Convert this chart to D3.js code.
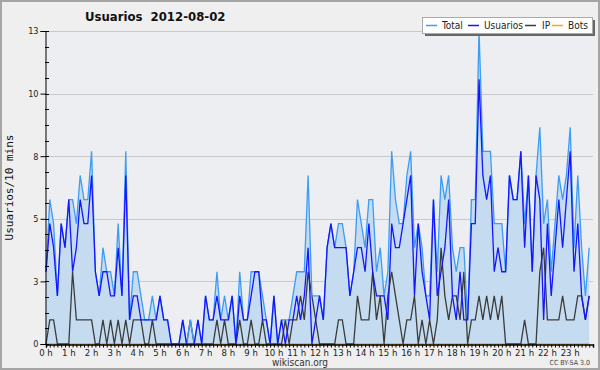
<!DOCTYPE html>
<html>
<head>
<meta charset="utf-8">
<script src="https://cdn.jsdelivr.net/npm/d3@7"></script>
<style>
  body { margin: 0; background: #fff; }
  svg { display: block; font-family: "DejaVu Sans", sans-serif; }
  .cond { font-family: "DejaVu Sans Condensed", "DejaVu Sans", sans-serif; font-stretch: condensed; }
</style>
</head>
<body>
<script>
const W = 600, H = 370
const plot = { left: 45, top: 31, right: 593, bottom: 344 }

// values per 10 minutes, 0 h to 23 h 50
const total = [3,6,5,2,5,4,6,6,5,7,6,6,8,3,2,4,3,3,2,5,2,8,1,3,3,2,1,1,2,1,2,1,1,0,0,0,
  1,0,1,0,1,0,2,1,1,3,1,2,1,2,0,3,1,1,3,3,3,2,1,0,2,0,1,1,1,2,3,3,3,7,2,2,
  2,1,4,5,4,5,5,4,2,3,6,5,4,6,6,3,4,2,3,8,6,5,5,7,8,4,5,4,2,2,6,3,7,6,7,4,
  3,4,4,1,6,6,13,8,8,8,5,5,5,3,7,6,6,8,5,7,3,7,9,5,6,3,5,7,6,7,9,4,7,4,2,4]
const usuarios = [3,5,4,2,5,4,6,3,4,6,5,5,7,3,2,3,3,2,2,4,2,7,1,2,2,1,1,1,1,1,2,1,1,0,0,0,
  1,0,0,0,1,0,2,1,1,2,1,1,1,2,0,2,1,1,2,3,3,1,1,0,2,0,1,0,1,1,2,1,2,4,0,1,
  2,1,4,5,4,4,4,4,2,3,4,4,3,5,3,2,2,2,1,5,4,4,5,6,7,2,5,3,2,1,6,2,3,4,6,2,
  1,3,1,1,5,5,11,7,6,7,3,4,3,3,7,6,6,8,4,7,3,7,6,1,5,2,4,6,4,6,8,3,5,2,1,2]
const ip = [0,1,1,0,0,0,0,3,1,1,1,1,1,0,0,1,0,1,0,1,0,1,0,1,1,1,0,0,1,0,0,0,0,0,0,0,
  0,0,1,0,0,0,0,0,0,1,0,1,0,0,0,1,0,0,1,0,0,1,0,0,0,0,0,1,0,1,1,2,1,3,2,1,
  0,0,0,0,0,1,1,0,0,0,2,1,1,1,3,1,2,0,2,3,2,1,0,1,1,2,0,1,0,1,0,1,4,2,1,2,
  2,1,3,0,1,1,2,1,2,1,2,1,2,0,0,0,0,0,1,0,0,0,3,4,1,1,1,1,2,1,1,1,2,2,1,2]
const bots = new Array(144).fill(0)

const hourLabels = ["0 h","1 h","2 h","3 h","4 h","5 h","6 h","7 h","8 h","9 h","10 h","11 h",
  "12 h","13 h","14 h","15 h","16 h","17 h","18 h","19 h","20 h","21 h","22 h","23 h"]
const yTickValues = [0, 2.6, 5.2, 7.8, 10.4, 13]
const yTickLabels = ["0", "3", "5", "8", "10", "13"]

const series = [
  { name: "Total", values: total, color: "#3d9cf5" },
  { name: "Usuarios", values: usuarios, color: "#1515ff" },
  { name: "IP", values: ip, color: "#3c3c3c" },
  { name: "Bots", values: bots, color: "#ffa500" }
]
// legend slot x positions (line start, text start)
const legendPos = [[426, 442], [468, 484], [525, 542], [552, 568]]

const svg = d3.select("body").append("svg")
  .attr("width", W)
  .attr("height", H)

// background and frame
svg.append("rect")
  .attr("x", 1).attr("y", 1)
  .attr("width", W - 2).attr("height", H - 2)
  .attr("fill", "#efefef")
  .attr("stroke", "#a5a5a5")
  .attr("stroke-width", 2)

svg.append("rect")
  .attr("x", plot.left).attr("y", plot.top)
  .attr("width", plot.right - plot.left).attr("height", plot.bottom - plot.top)
  .attr("fill", "#eceef1")

const x = d3.scaleLinear().domain([0, 24]).range([46, 593])
const y = d3.scaleLinear().domain([0, 13]).range([plot.bottom, plot.top])
const t = i => i / 6

// grid lines
svg.append("g").selectAll("line")
  .data(yTickValues.slice(1))
  .enter().append("line")
  .attr("x1", plot.left).attr("x2", plot.right)
  .attr("y1", d => Math.round(y(d)) + 0.5).attr("y2", d => Math.round(y(d)) + 0.5)
  .attr("stroke", "#c9c9c9")

// area under total
svg.append("path")
  .datum(total)
  .attr("fill", "#c5dcf0")
  .attr("d", d3.area()
    .x((d, i) => x(t(i)))
    .y0(y(0))
    .y1(d => y(d)))

// lines, drawn back to front
const drawOrder = [series[3], series[2], series[0], series[1]]
drawOrder.forEach(s => {
  svg.append("path")
    .datum(s.values)
    .attr("fill", "none")
    .attr("stroke", s.color)
    .attr("stroke-width", 1.3)
    .attr("d", d3.line()
      .x((d, i) => x(t(i)))
      .y(d => y(d)))
})

// y axis
const yAxis = svg.append("g")
  .attr("transform", "translate(" + (plot.left + 0.5) + ",0)")
yAxis.call(d3.axisLeft(y)
    .tickValues(yTickValues)
    .tickSize(5)
    .tickPadding(2)
    .tickFormat((d, i) => yTickLabels[i]))
yAxis.select(".domain").attr("stroke", "#000")
yAxis.selectAll("text").attr("class", "cond").style("font-size", "9px").attr("fill", "#222")

// minor y ticks, inside
svg.append("g").selectAll("line")
  .data(d3.range(0, 21).map(k => k * 0.65))
  .enter().append("line")
  .attr("x1", plot.left).attr("x2", plot.left + 4)
  .attr("y1", d => Math.round(y(d)) + 0.5).attr("y2", d => Math.round(y(d)) + 0.5)
  .attr("stroke", "#000")

// x axis
const xAxis = svg.append("g")
  .attr("transform", "translate(0," + (plot.bottom + 0.5) + ")")
xAxis.call(d3.axisBottom(x)
    .tickValues(d3.range(0, 24.01, 1 / 6))
    .tickSize(3)
    .tickFormat(""))
xAxis.select(".domain").attr("stroke", "#000").attr("stroke-width", 1.5)

svg.append("g").selectAll("text")
  .data(hourLabels)
  .enter().append("text")
  .attr("class", "cond")
  .attr("x", (d, i) => x(i))
  .attr("y", plot.bottom + 12)
  .attr("text-anchor", "middle")
  .style("font-size", "9.5px")
  .attr("fill", "#222")
  .text(d => d)

// title
svg.append("text")
  .attr("class", "cond")
  .attr("x", 85)
  .attr("y", 21)
  .style("font-size", "13px")
  .style("font-weight", "bold")
  .style("white-space", "pre")
  .attr("fill", "#111")
  .text("Usuarios  2012-08-02")

// y label
svg.append("text")
  .attr("transform", "translate(13," + ((plot.top + plot.bottom) / 2) + ")rotate(-90)")
  .attr("text-anchor", "middle")
  .style("font-family", "'DejaVu Sans Mono', monospace")
  .style("font-size", "11px")
  .attr("fill", "#111")
  .text("Usuarios/10 mins")

// footer
svg.append("text")
  .attr("class", "cond")
  .attr("x", 300).attr("y", 366)
  .attr("text-anchor", "middle")
  .style("font-size", "10px")
  .attr("fill", "#333")
  .text("wikiscan.org")

svg.append("text")
  .attr("class", "cond")
  .attr("x", 590).attr("y", 365)
  .attr("text-anchor", "end")
  .style("font-size", "7px")
  .attr("fill", "#444")
  .text("CC BY-SA 3.0")

// legend
const legend = svg.append("g")
legend.append("rect")
  .attr("x", 425).attr("y", 20)
  .attr("width", 170).attr("height", 16)
  .attr("fill", "#666")
legend.append("rect")
  .attr("x", 422.5).attr("y", 17.5)
  .attr("width", 170).attr("height", 16)
  .attr("fill", "#fff")
  .attr("stroke", "#aaa")

series.forEach((s, i) => {
  legend.append("line")
    .attr("x1", legendPos[i][0]).attr("x2", legendPos[i][0] + 11)
    .attr("y1", 25.5).attr("y2", 25.5)
    .attr("stroke", s.color)
    .attr("stroke-width", 1.5)
  legend.append("text")
    .attr("class", "cond")
    .attr("x", legendPos[i][1]).attr("y", 29)
    .style("font-size", "10px")
    .attr("fill", "#222")
    .text(s.name)
})
</script>
</body>
</html>
